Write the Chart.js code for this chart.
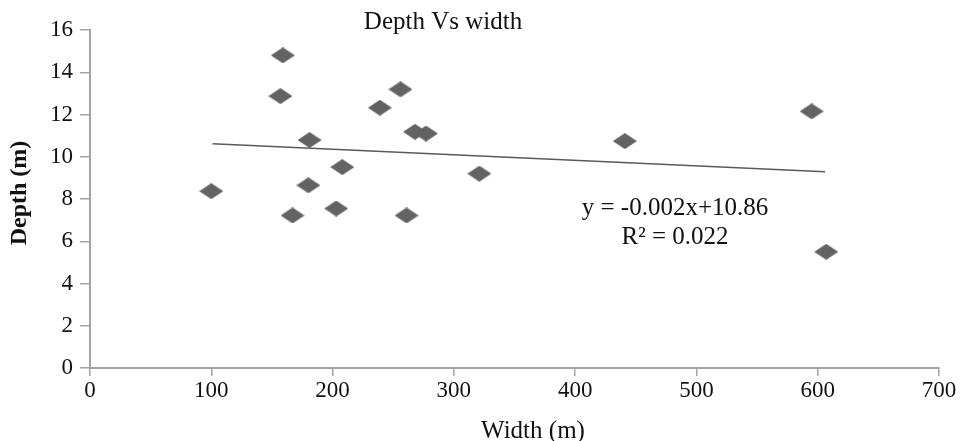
<!DOCTYPE html>
<html>
<head>
<meta charset="utf-8">
<script src="https://cdn.jsdelivr.net/npm/chart.js@4.4.1/dist/chart.umd.min.js"></script>
<style>
  html, body { margin: 0; padding: 0; background: #fff; }
  #wrap { width: 965px; height: 441px; }
</style>
</head>
<body>
<div id="wrap"><canvas id="depth-width-chart" width="965" height="441"></canvas></div>
<script>
// --- Data ---
const widths = [100, 159, 157, 181, 180, 167, 203, 208, 239, 256, 268, 277, 261, 321, 441, 595, 607];
const depths = [8.37, 14.8, 12.87, 10.79, 8.65, 7.22, 7.55, 9.51, 12.32, 13.19, 11.18, 11.1, 7.22, 9.2, 10.74, 12.15, 5.5];
const trendX = [101, 606];
const trendY = [10.62, 9.29];
const xTicks = [0, 100, 200, 300, 400, 500, 600, 700];
const yTicks = [0, 2, 4, 6, 8, 10, 12, 14, 16];
const chartTitle = 'Depth Vs width';
const xTitle = 'Width (m)';
const yTitle = 'Depth (m)';
const equationText = 'y = -0.002x+10.86';
const rSquaredText = 'R\u00B2 = 0.022';

const serif = "'Liberation Serif', 'Times New Roman', serif";
const axisGrey = '#a3a3a3';

// flattened diamond marker
function makeDiamond(w, h, color) {
    const c = document.createElement('canvas');
    c.width = w;
    c.height = h;
    const g = c.getContext('2d');
    g.fillStyle = color;
    g.beginPath();
    g.moveTo(w / 2, 0);
    g.lineTo(w, h / 2);
    g.lineTo(w / 2, h);
    g.lineTo(0, h / 2);
    g.closePath();
    g.fill();
    return c;
}
const diamond = makeDiamond(24, 16, '#636363');

// titles and the equation are placed by hand to follow the reference
const textPlugin = {
    id: 'textPlugin',
    afterDraw(chart) {
        const ctx = chart.ctx;
        ctx.save();
        ctx.fillStyle = '#111';
        ctx.textAlign = 'center';
        ctx.textBaseline = 'alphabetic';

        ctx.font = `25px ${serif}`;
        ctx.fillText(chartTitle, 443, 29);
        ctx.fillText(xTitle, 533, 438);
        ctx.fillText(equationText, 675, 215);
        ctx.fillText(rSquaredText, 675, 244);

        ctx.translate(20, 193);
        ctx.rotate(-Math.PI / 2);
        ctx.font = `bold 24px ${serif}`;
        ctx.textBaseline = 'middle';
        ctx.fillText(yTitle, 0, 0);
        ctx.restore();
    }
};

const ctx = document.getElementById('depth-width-chart');
new Chart(ctx, {
    type: 'scatter',
    data: {
        datasets: [{
            label: 'Depth',
            data: widths.map((w, i) => ({ x: w, y: depths[i] })),
            pointStyle: diamond,
            pointRadius: 12,
            order: 1
        }, {
            label: 'Trend',
            data: trendX.map((x, i) => ({ x: x, y: trendY[i] })),
            showLine: true,
            borderColor: '#5a5a5a',
            borderWidth: 1.5,
            pointRadius: 0,
            order: 2
        }]
    },
    options: {
        responsive: false,
        animation: false,
        events: [],
        layout: { padding: { top: 30, right: 26, left: 0, bottom: 0 } },
        plugins: {
            legend: { display: false },
            tooltip: { enabled: false }
        },
        scales: {
            x: {
                type: 'linear',
                min: 0,
                max: 700,
                afterBuildTicks: s => { s.ticks = xTicks.map(v => ({ value: v })); },
                afterFit: s => { s.height = 73; },
                border: { color: axisGrey, width: 2 },
                grid: { drawOnChartArea: false, drawTicks: true, tickLength: 8, color: axisGrey, lineWidth: 1.5 },
                ticks: { color: '#111', font: { family: serif, size: 23 }, padding: 1, maxRotation: 0 }
            },
            y: {
                type: 'linear',
                min: 0,
                max: 16,
                afterBuildTicks: s => { s.ticks = yTicks.map(v => ({ value: v })); },
                afterFit: s => { s.width = 90; },
                border: { color: axisGrey, width: 2 },
                grid: { drawOnChartArea: false, drawTicks: true, tickLength: 10, color: axisGrey, lineWidth: 1.5 },
                ticks: { color: '#111', font: { family: serif, size: 23 }, padding: 7 }
            }
        }
    },
    plugins: [textPlugin]
});
</script>
</body>
</html>
